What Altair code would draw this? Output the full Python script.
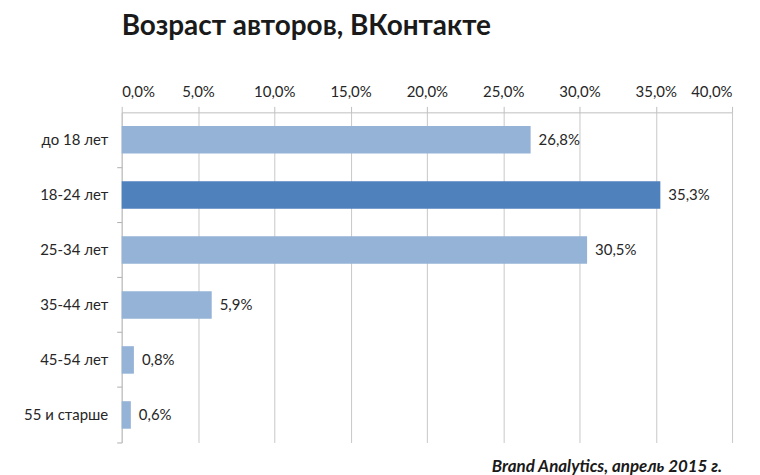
import altair as alt
import pandas as pd

categories = ["до 18 лет", "18-24 лет", "25-34 лет", "35-44 лет", "45-54 лет", "55 и старше"]
values = [26.8, 35.3, 30.5, 5.9, 0.8, 0.6]
highlight = [False, True, False, False, False, False]
value_labels = ["26,8%", "35,3%", "30,5%", "5,9%", "0,8%", "0,6%"]
title_text = "Возраст авторов, ВКонтакте"
source_text = "Brand Analytics, апрель 2015 г."

df = pd.DataFrame({"cat": categories, "val": values, "hl": highlight, "lbl": value_labels})

FONT = "Lato"

y_enc = alt.Y("cat:N", sort=categories, title=None,
              scale=alt.Scale(paddingInner=0.5, paddingOuter=0.25),
              axis=alt.Axis(bandPosition=1.5, tickSize=5, tickColor="#AFAFAF",
                            domainColor="#BFBFBF", labelPadding=9, labelFontSize=15,
                            labelColor="#262626", labelFont=FONT, grid=False))
x_enc = alt.X("val:Q", title=None,
              scale=alt.Scale(domain=[0, 40], nice=False),
              axis=alt.Axis(orient="top", values=[0, 5, 10, 15, 20, 25, 30, 35, 40],
                            labelExpr="replace(format(datum.value, '.1f'), '.', ',') + '%'",
                            grid=True, gridColor="#C8C8C8", domainColor="#BFBFBF",
                            tickColor="#BFBFBF", tickSize=6, labelPadding=7,
                            labelFontSize=15, labelColor="#262626", labelFont=FONT))

bars = alt.Chart(df).mark_bar().encode(
    y=y_enc, x=x_enc,
    color=alt.condition("datum.hl", alt.value("#4F81BD"), alt.value("#95B3D7")),
)

labels = alt.Chart(df).mark_text(align="left", baseline="middle", dx=8, fontSize=15,
                                 color="#262626", font=FONT).encode(
    y=alt.Y("cat:N", sort=categories), x="val:Q", text="lbl:N")

source = alt.Chart(pd.DataFrame({"t": [source_text]})).mark_text(
    align="right", baseline="middle", fontSize=17, fontWeight="bold", fontStyle="italic",
    color="#1a1a1a", font=FONT).encode(
    x=alt.value(602), y=alt.value(356), text="t:N")

chart = alt.layer(bars, labels, source).properties(
    width=612, height=331,
    padding={"left": 114, "top": 104, "right": 20, "bottom": 40},
    autosize=alt.AutoSizeParams(type="none"),
    title=alt.TitleParams(title_text, anchor="start", frame="group", fontSize=28,
                          fontWeight="bold", font=FONT, color="#1a1a1a", offset=44),
).configure_view(stroke=None)

chart.save("out.html", embed_options={"renderer": "svg", "actions": False})
